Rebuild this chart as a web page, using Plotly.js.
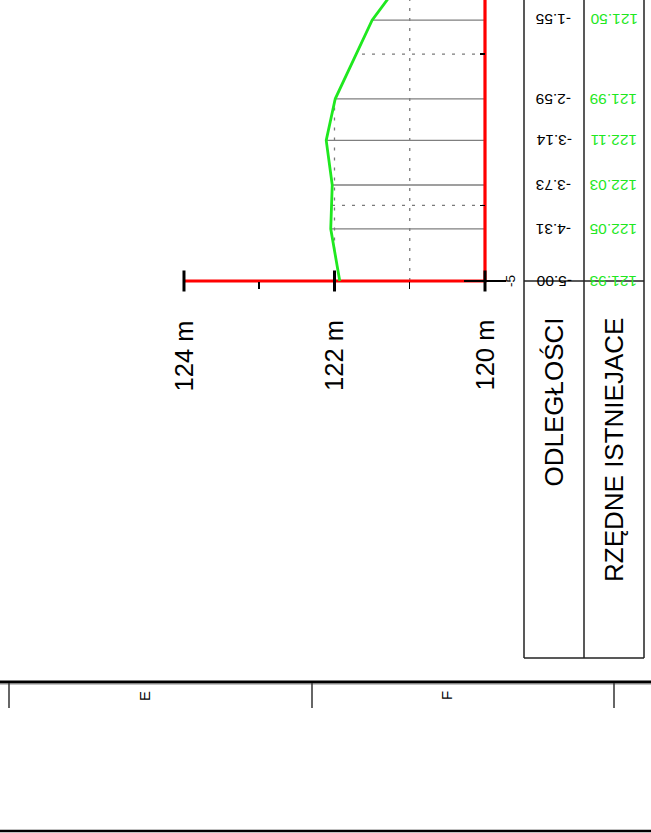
<!DOCTYPE html>
<html>
<head>
<meta charset="utf-8">
<script src="https://cdn.plot.ly/plotly-3.0.1.min.js"></script>
<style>html,body{margin:0;padding:0;background:#fff;}#chart{width:651px;height:833px;}</style>
</head>
<body>
<div id="chart"></div>
<script>
// ---- data ----
const DIST = [-5.00, -4.31, -3.73, -3.14, -2.59, -1.55, -1.00];   // ODLEGŁOŚCI
const ELEV = [121.93, 122.05, 122.03, 122.11, 121.99, 121.50, 121.09]; // RZĘDNE ISTNIEJACE
const ELEV_TICKS = [124, 122, 120];
const ELEV_TICK_TEXT = ['124 m', '122 m', '120 m'];
const ELEV_MINOR = [123, 121];
const GRID_ELEV = [121, 122];
const GRID_DIST = [-4, -2];
const DATUM = 120;
const ROW_LABELS = ['ODLEGŁOŚCI', 'RZĘDNE ISTNIEJACE'];
const FRAME_LABELS = ['E', 'F'];

// ---- page geometry ----
const W = 651, H = 833;
const px = v => v / W;
const py = v => 1 - v / H;
const FONT = 'Liberation Sans, Arial, sans-serif';
const GREEN = '#1fe81f';

function terrainAt(d) {
  for (let i = 0; i < DIST.length - 1; i++) {
    if (d >= DIST[i] && d <= DIST[i + 1]) {
      const t = (d - DIST[i]) / (DIST[i + 1] - DIST[i]);
      return ELEV[i] + t * (ELEV[i + 1] - ELEV[i]);
    }
  }
  return null;
}

// station lines
const stX = [], stY = [];
DIST.forEach((d, i) => { stX.push(ELEV[i], DATUM, null); stY.push(d, d, null); });

// grid lines clipped to terrain
const gX = [], gY = [];
GRID_DIST.forEach(d => { const e = terrainAt(d); if (e !== null) { gX.push(DATUM, e, null); gY.push(d, d, null); } });
GRID_ELEV.forEach(g => {
  let start = null;
  for (let i = 0; i < DIST.length; i++) {
    const above = ELEV[i] > g;
    if (i > 0) {
      const wasAbove = ELEV[i - 1] > g;
      if (above !== wasAbove) {
        const t = (g - ELEV[i - 1]) / (ELEV[i] - ELEV[i - 1]);
        const dc = DIST[i - 1] + t * (DIST[i] - DIST[i - 1]);
        if (above) start = dc; else { gX.push(g, g, null); gY.push(start, dc, null); start = null; }
      }
    } else if (above) start = DIST[0];
  }
  if (start !== null) { gX.push(g, g, null); gY.push(start, DIST[DIST.length - 1], null); }
});

const traces = [
  { x: gX, y: gY, mode: 'lines', line: { color: '#7a7a7a', width: 1.3, dash: '3px,7px' }, hoverinfo: 'skip' },
  { x: stX, y: stY, mode: 'lines', line: { color: '#7f7f7f', width: 1.3 }, hoverinfo: 'skip' },
  { x: [ELEV_TICKS[0], DATUM, DATUM], y: [DIST[0], DIST[0], DIST[DIST.length - 1]], mode: 'lines',
    line: { color: '#ff0000', width: 3.2 }, hoverinfo: 'skip' },
  { x: ELEV, y: DIST, mode: 'lines', line: { color: GREEN, width: 2.8 }, hoverinfo: 'skip' },
  { x: ELEV_TICKS, y: ELEV_TICKS.map(() => DIST[0]), mode: 'markers',
    marker: { symbol: 'line-ns', size: 15, line: { color: '#000', width: 3 } }, hoverinfo: 'skip' },
  { x: [DATUM], y: [DIST[0]], mode: 'markers',
    marker: { symbol: 'line-ew', size: 30, line: { color: '#000', width: 2 } }, hoverinfo: 'skip' }
];

const annotations = [];
ELEV_TICKS.forEach((v, i) => annotations.push({
  x: v, y: DIST[0], xref: 'x', yref: 'y', text: ELEV_TICK_TEXT[i], showarrow: false,
  textangle: -90, xanchor: 'center', yanchor: 'top', yshift: -37,
  font: { family: FONT, size: 25.5, color: '#000' }
}));
annotations.push({ x: DATUM, y: DIST[0], xref: 'x', yref: 'y', text: String(DIST[0]), showarrow: false,
  textangle: -90, xanchor: 'center', yanchor: 'middle', xshift: 26,
  font: { family: FONT, size: 13.5, color: '#000' } });
const COLX = [px(554), px(614)];
ROW_LABELS.forEach((t, i) => annotations.push({
  x: COLX[i], y: DIST[0], xref: 'paper', yref: 'y', text: t, showarrow: false,
  textangle: -90, xanchor: 'center', yanchor: 'top', yshift: -35,
  font: { family: FONT, size: 26, color: '#000' }
}));
DIST.forEach((d, i) => {
  annotations.push({ x: COLX[0], y: d, xref: 'paper', yref: 'y', text: d.toFixed(2), showarrow: false,
    textangle: 180, xanchor: 'center', yanchor: 'middle', font: { family: FONT, size: 15.5, color: '#000' } });
  annotations.push({ x: COLX[1], y: d, xref: 'paper', yref: 'y', text: ELEV[i].toFixed(2), showarrow: false,
    textangle: 180, xanchor: 'center', yanchor: 'middle', font: { family: FONT, size: 15.5, color: GREEN } });
});
[144, 446].forEach((x, i) => annotations.push({ x: px(x), y: py(696), xref: 'paper', yref: 'paper',
  text: FRAME_LABELS[i], showarrow: false, textangle: -90, xanchor: 'center', yanchor: 'middle',
  font: { family: FONT, size: 15, color: '#000' } }));

const tline = { color: '#222', width: 1.5 };
const shapes = [
  // table
  { type: 'line', xref: 'paper', yref: 'paper', x0: px(524), x1: px(524), y0: 1.02, y1: py(658), line: tline },
  { type: 'line', xref: 'paper', yref: 'paper', x0: px(584), x1: px(584), y0: 1.02, y1: py(658), line: tline },
  { type: 'line', xref: 'paper', yref: 'paper', x0: px(644), x1: px(644), y0: 1.02, y1: py(658), line: tline },
  { type: 'line', xref: 'paper', yref: 'paper', x0: px(524), x1: px(644), y0: py(658), y1: py(658), line: tline },
  { type: 'line', xref: 'paper', yref: 'y', x0: px(524), x1: px(644), y0: DIST[0], y1: DIST[0], line: tline },
  // sheet frame
  { type: 'line', xref: 'paper', yref: 'paper', x0: 0, x1: 1, y0: py(682), y1: py(682), line: { color: '#000', width: 3 } },
  { type: 'line', xref: 'paper', yref: 'paper', x0: 0, x1: 1, y0: py(684), y1: py(684), line: { color: '#888', width: 1 } },
  { type: 'line', xref: 'paper', yref: 'paper', x0: 0, x1: 1, y0: py(831), y1: py(831), line: { color: '#000', width: 2.5 } },
  ...[9, 312, 614].map(x => ({ type: 'line', xref: 'paper', yref: 'paper', x0: px(x), x1: px(x), y0: py(683), y1: py(708),
    line: { color: '#333', width: 1.5 } }))
];

const layout = {
  width: W, height: H, margin: { l: 0, r: 0, t: 0, b: 0 }, showlegend: false,
  paper_bgcolor: '#fff', plot_bgcolor: '#fff',
  xaxis: { range: [126.445, 117.794], anchor: 'free', position: 1 - 281 / H, showgrid: false, zeroline: false,
    showline: false, tickvals: ELEV_MINOR, ticks: 'outside', ticklen: 7, tickwidth: 1.5, tickcolor: '#000',
    showticklabels: false },
  yaxis: { range: [-12.302, -1.283], anchor: 'free', position: 485 / W, showgrid: false, zeroline: false,
    showline: false, tickvals: GRID_DIST, ticks: 'outside', ticklen: 5, tickwidth: 1.5, tickcolor: '#000',
    showticklabels: false },
  annotations: annotations, shapes: shapes
};

Plotly.newPlot('chart', traces, layout, { staticPlot: true, displayModeBar: false });
</script>
</body>
</html>
